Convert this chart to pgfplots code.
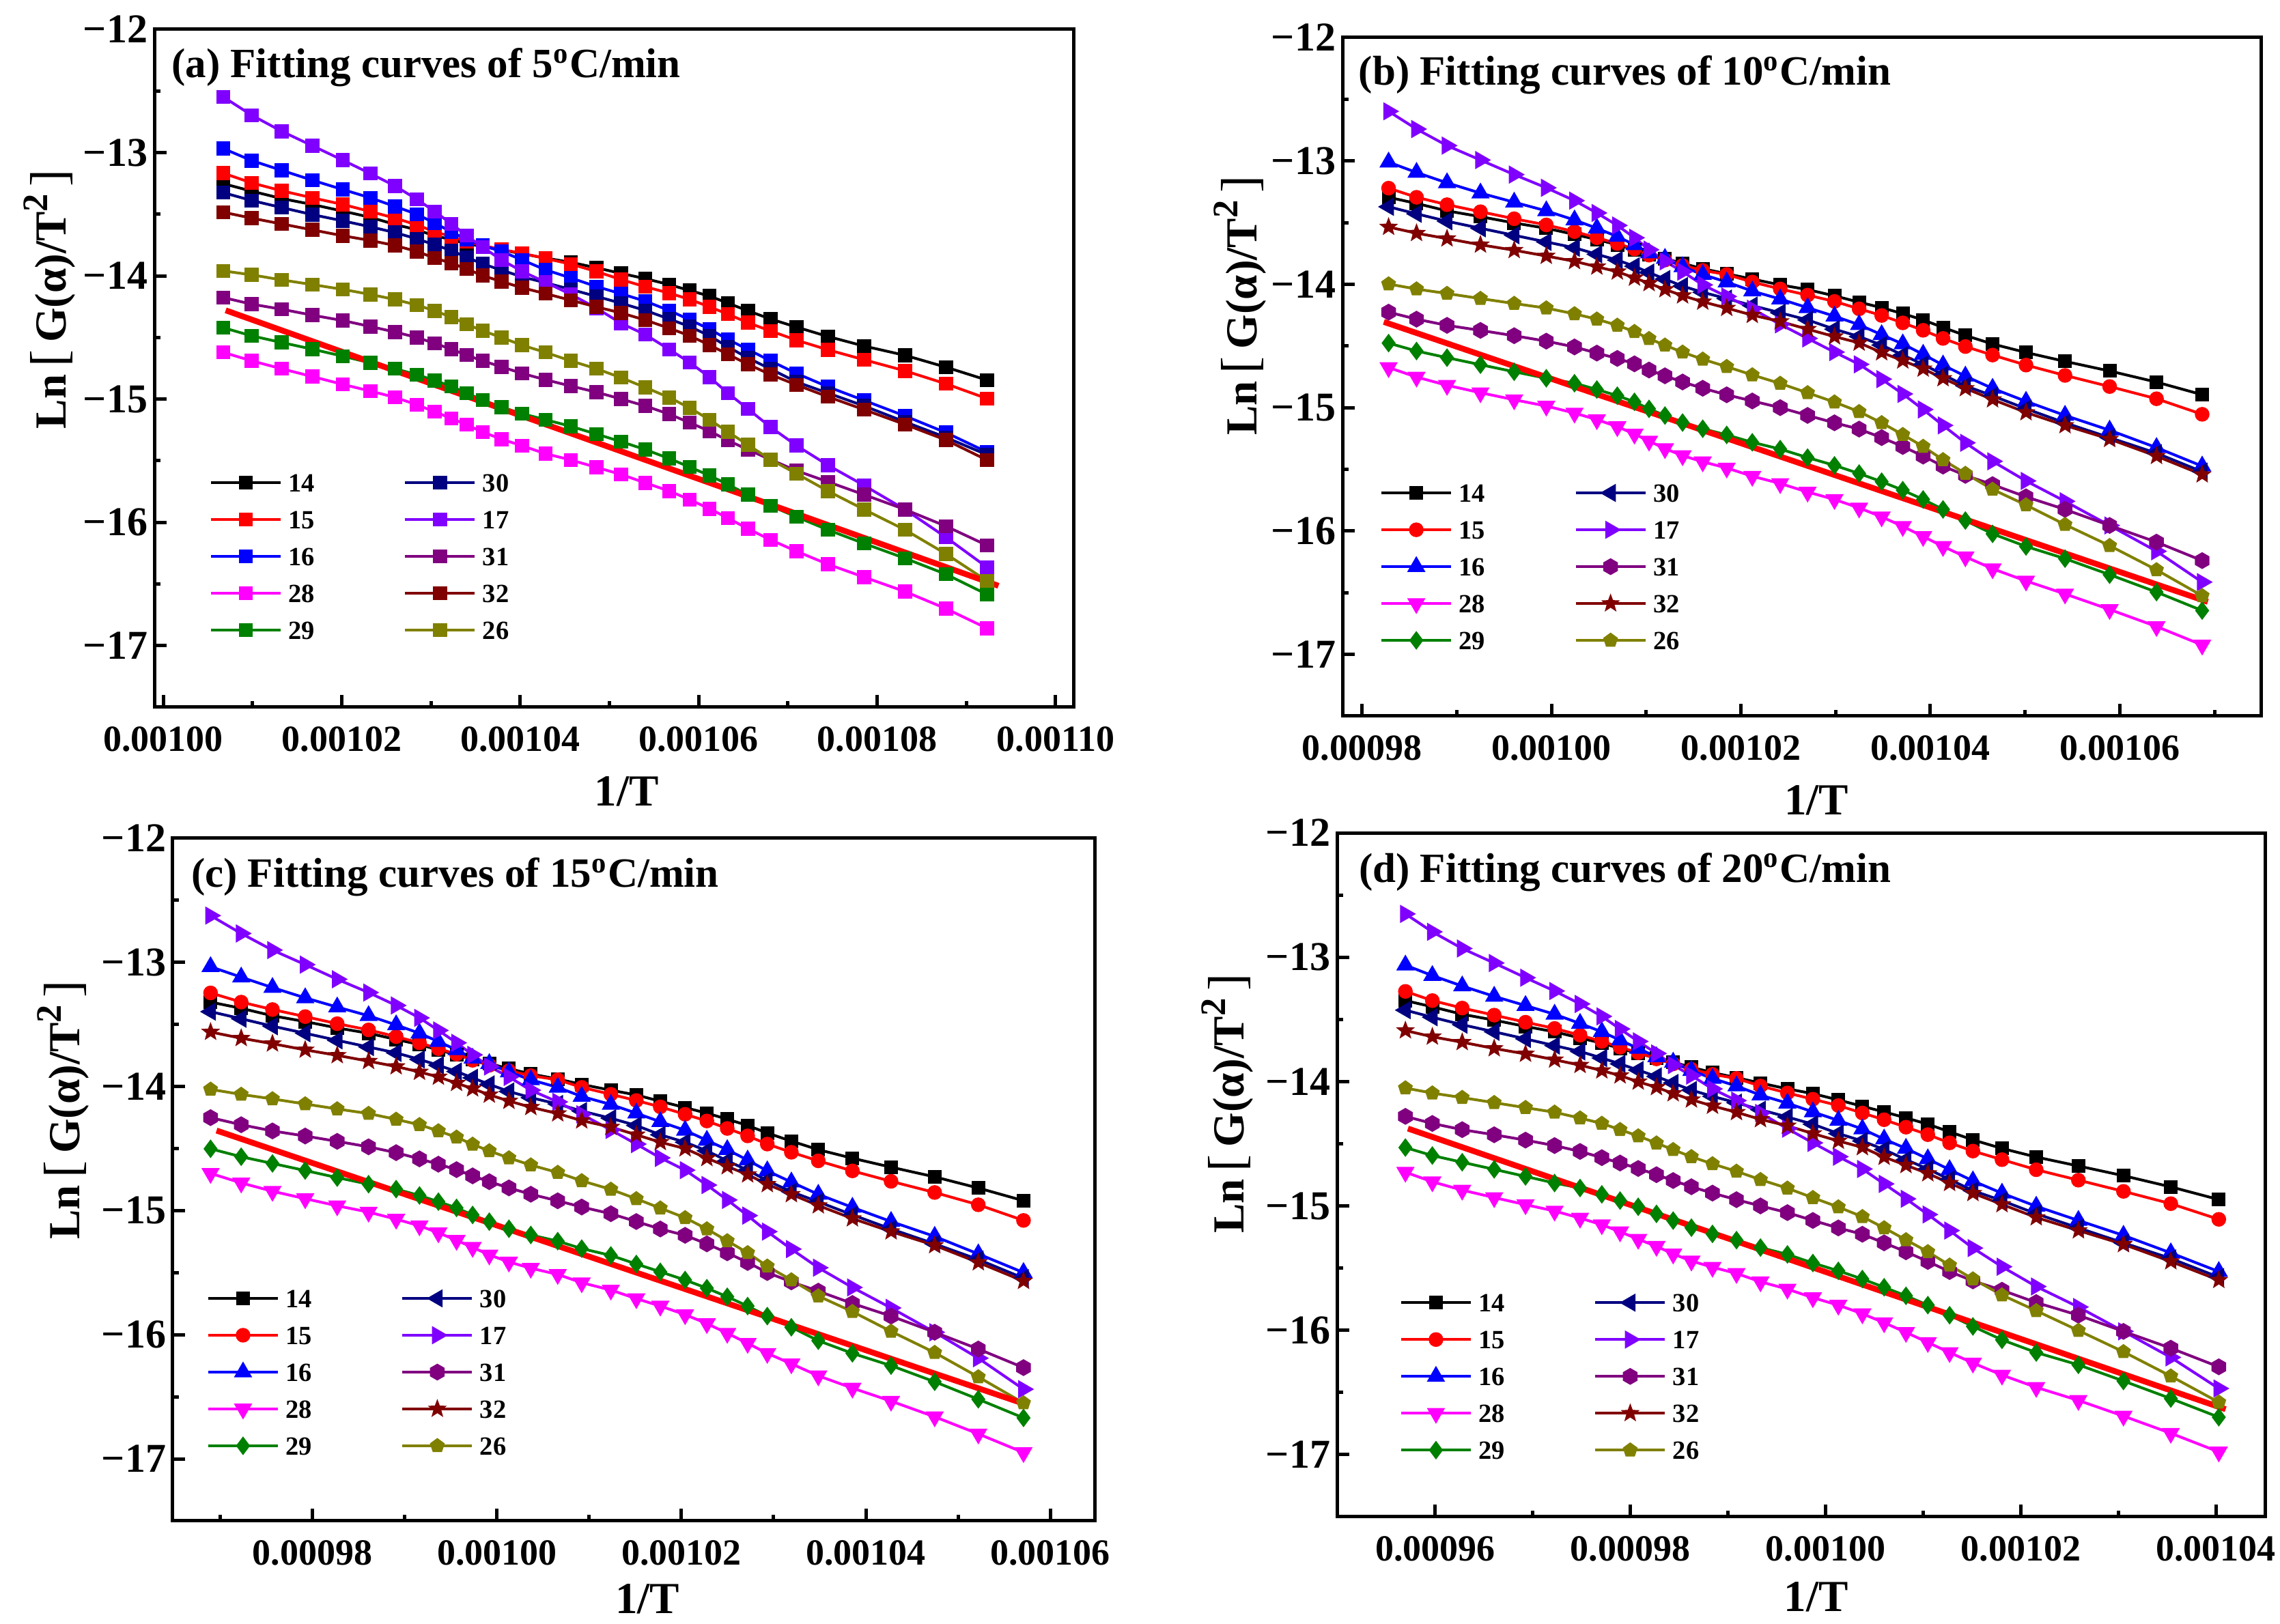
\documentclass[border=0pt]{standalone}
\usepackage{fontspec}
\setmainfont{Liberation Serif}
\usepackage{pgfplots}
\pgfplotsset{compat=1.18}
\usepackage{pgfplotstable}
\usetikzlibrary{plotmarks}

\definecolor{c14}{RGB}{0,0,0}
\definecolor{c15}{RGB}{255,0,0}
\definecolor{c16}{RGB}{0,0,255}
\definecolor{c28}{RGB}{255,0,255}
\definecolor{c29}{RGB}{0,128,0}
\definecolor{c30}{RGB}{0,0,128}
\definecolor{c17}{RGB}{128,0,255}
\definecolor{c31}{RGB}{128,0,128}
\definecolor{c32}{RGB}{128,0,0}
\definecolor{c26}{RGB}{128,128,0}

\pgfdeclareplotmark{myhex}{%
  \pgfpathmoveto{\pgfpointpolar{90}{\pgfplotmarksize}}%
  \pgfpathlineto{\pgfpointpolar{150}{\pgfplotmarksize}}%
  \pgfpathlineto{\pgfpointpolar{210}{\pgfplotmarksize}}%
  \pgfpathlineto{\pgfpointpolar{270}{\pgfplotmarksize}}%
  \pgfpathlineto{\pgfpointpolar{330}{\pgfplotmarksize}}%
  \pgfpathlineto{\pgfpointpolar{30}{\pgfplotmarksize}}%
  \pgfpathclose
  \pgfusepathqfillstroke}
\pgfdeclareplotmark{mystar}{%
  \pgfpathmoveto{\pgfpointpolar{90}{\pgfplotmarksize}}%
  \pgfpathlineto{\pgfpointpolar{126}{0.42\pgfplotmarksize}}%
  \pgfpathlineto{\pgfpointpolar{162}{\pgfplotmarksize}}%
  \pgfpathlineto{\pgfpointpolar{198}{0.42\pgfplotmarksize}}%
  \pgfpathlineto{\pgfpointpolar{234}{\pgfplotmarksize}}%
  \pgfpathlineto{\pgfpointpolar{270}{0.42\pgfplotmarksize}}%
  \pgfpathlineto{\pgfpointpolar{306}{\pgfplotmarksize}}%
  \pgfpathlineto{\pgfpointpolar{342}{0.42\pgfplotmarksize}}%
  \pgfpathlineto{\pgfpointpolar{18}{\pgfplotmarksize}}%
  \pgfpathlineto{\pgfpointpolar{54}{0.42\pgfplotmarksize}}%
  \pgfpathclose
  \pgfusepathqfillstroke}

\pgfplotsset{
  base/.style={line width=0.8pt},
  as14/.style={base, color=c14, mark=square*, mark size=1.9pt, mark options={solid,line width=0.3pt}},
  as15/.style={base, color=c15, mark=square*, mark size=1.9pt, mark options={solid,line width=0.3pt}},
  as16/.style={base, color=c16, mark=square*, mark size=1.9pt, mark options={solid,line width=0.3pt}},
  as28/.style={base, color=c28, mark=square*, mark size=1.9pt, mark options={solid,line width=0.3pt}},
  as29/.style={base, color=c29, mark=square*, mark size=1.9pt, mark options={solid,line width=0.3pt}},
  as30/.style={base, color=c30, mark=square*, mark size=1.9pt, mark options={solid,line width=0.3pt}},
  as17/.style={base, color=c17, mark=square*, mark size=1.9pt, mark options={solid,line width=0.3pt}},
  as31/.style={base, color=c31, mark=square*, mark size=1.9pt, mark options={solid,line width=0.3pt}},
  as32/.style={base, color=c32, mark=square*, mark size=1.9pt, mark options={solid,line width=0.3pt}},
  as26/.style={base, color=c26, mark=square*, mark size=1.9pt, mark options={solid,line width=0.3pt}},
  bs14/.style={base, color=c14, mark=square*, mark size=1.85pt, mark options={solid,line width=0.3pt}},
  bs15/.style={base, color=c15, mark=*, mark size=2.0pt, mark options={solid,line width=0.3pt}},
  bs16/.style={base, color=c16, mark=triangle*, mark size=2.8pt, mark options={solid,line width=0.3pt}},
  bs28/.style={base, color=c28, mark=triangle*, mark size=2.8pt, mark options={solid,line width=0.3pt,rotate=180}},
  bs29/.style={base, color=c29, mark=diamond*, mark size=2.5pt, mark options={solid,line width=0.3pt}},
  bs30/.style={base, color=c30, mark=triangle*, mark size=2.8pt, mark options={solid,line width=0.3pt,rotate=90}},
  bs17/.style={base, color=c17, mark=triangle*, mark size=2.8pt, mark options={solid,line width=0.3pt,rotate=-90}},
  bs31/.style={base, color=c31, mark=myhex, mark size=2.3pt, mark options={solid,line width=0.3pt}},
  bs32/.style={base, color=c32, mark=mystar, mark size=2.5pt, mark options={solid,line width=0.3pt}},
  bs26/.style={base, color=c26, mark=pentagon*, mark size=2.1pt, mark options={solid,line width=0.3pt}},
  legend image code/.code={%
    \path[draw=none,fill=none] (0pt,-5.4pt) rectangle (20.4pt,5.4pt);
    \draw[mark repeat=2,mark phase=2] plot coordinates {(0pt,0pt) (10.2pt,0pt) (20.4pt,0pt)};},
  panel/.style={
    scale only axis, anchor=south west,
    ymin=-17.5, ymax=-12,
    ytick={-17,-16,-15,-14,-13,-12},
    yticklabels={−17,−16,−15,−14,−13,−12},
    minor ytick={-16.5,-15.5,-14.5,-13.5,-12.5},
    tick align=inside, xtick pos=left, ytick pos=left,
    major tick length=3.6pt, minor tick length=1.8pt,
    tick style={black, line width=1pt},
    axis line style={line width=1pt, black},
    scaled x ticks=false, scaled y ticks=false,
    yticklabel style={font=\fontsize{12}{14}\selectfont\bfseries, inner sep=0pt, anchor=east, xshift=-1.8pt},
    xticklabel style={font=\fontsize{10.8}{12}\selectfont\bfseries, inner sep=0pt, anchor=north, yshift=-5.6pt},
    label style={font=\fontsize{13}{15}\selectfont\bfseries},
    xlabel={1/T},
    ylabel={Ln\,{\mdseries\fontsize{15}{15}\selectfont[}\,G(α)/T\raisebox{0.42em}{\fontsize{10.5}{11}\selectfont 2}\,{\mdseries\fontsize{15}{15}\selectfont]}},
    legend columns=2,
    legend cell align=left,
    legend style={draw=none, fill=none, inner sep=0pt, outer sep=0pt, row sep=0pt, anchor=north west,
      font=\fontsize{7.7}{9}\selectfont\bfseries,
      cells={anchor=west},
      nodes={anchor=west, inner sep=0pt, text height=5.4pt, text depth=0pt},
      /tikz/every odd column/.append style={column sep=1.9pt},
      /tikz/every even column/.append style={column sep=26.1pt}},
  },
}

\newcommand{\legendall}[1]{%
  \addlegendimage{#1s14}\addlegendentry{14}
  \addlegendimage{#1s30}\addlegendentry{30}
  \addlegendimage{#1s15}\addlegendentry{15}
  \addlegendimage{#1s17}\addlegendentry{17}
  \addlegendimage{#1s16}\addlegendentry{16}
  \addlegendimage{#1s31}\addlegendentry{31}
  \addlegendimage{#1s28}\addlegendentry{28}
  \addlegendimage{#1s32}\addlegendentry{32}
  \addlegendimage{#1s29}\addlegendentry{29}
  \addlegendimage{#1s26}\addlegendentry{26}}
\newcommand{\plotall}[2]{%
  \addplot[#2s14, forget plot] table[x=x,y=s14]{#1};
  \addplot[#2s15, forget plot] table[x=x,y=s15]{#1};
  \addplot[#2s16, forget plot] table[x=x,y=s16]{#1};
  \addplot[#2s28, forget plot] table[x=x,y=s28]{#1};
  \addplot[#2s29, forget plot] table[x=x,y=s29]{#1};
  \addplot[#2s30, forget plot] table[x=x,y=s30]{#1};
  \addplot[#2s17, forget plot] table[x=x,y=s17]{#1};
  \addplot[#2s31, forget plot] table[x=x,y=s31]{#1};
  \addplot[#2s32, forget plot] table[x=x,y=s32]{#1};
  \addplot[#2s26, forget plot] table[x=x,y=s26]{#1};}

\pgfplotstableread{
x s14 s15 s16 s28 s29 s30 s17 s31 s32 s26
1006.72 -13.252 -13.167 -12.967 -14.621 -14.421 -13.325 -12.548 -14.176 -13.484 -13.960
1009.92 -13.313 -13.246 -13.065 -14.690 -14.487 -13.389 -12.697 -14.230 -13.532 -13.992
1013.27 -13.373 -13.310 -13.144 -14.754 -14.541 -13.446 -12.827 -14.271 -13.579 -14.033
1016.70 -13.421 -13.367 -13.224 -14.817 -14.595 -13.503 -12.944 -14.319 -13.627 -14.071
1020.13 -13.475 -13.421 -13.300 -14.881 -14.652 -13.554 -13.062 -14.363 -13.675 -14.110
1023.21 -13.525 -13.478 -13.367 -14.935 -14.706 -13.602 -13.170 -14.411 -13.713 -14.151
1025.98 -13.583 -13.532 -13.437 -14.986 -14.754 -13.649 -13.271 -14.456 -13.754 -14.192
1028.42 -13.627 -13.586 -13.500 -15.046 -14.802 -13.700 -13.379 -14.500 -13.802 -14.237
1030.43 -13.675 -13.643 -13.573 -15.103 -14.849 -13.748 -13.478 -14.548 -13.856 -14.284
1032.29 -13.706 -13.681 -13.643 -15.157 -14.897 -13.795 -13.578 -14.595 -13.897 -14.335
1033.99 -13.738 -13.722 -13.706 -15.208 -14.951 -13.849 -13.673 -14.643 -13.944 -14.392
1035.80 -13.763 -13.754 -13.754 -15.268 -15.008 -13.903 -13.768 -14.690 -13.998 -14.446
1037.90 -13.789 -13.786 -13.802 -15.325 -15.065 -13.954 -13.871 -14.738 -14.046 -14.500
1040.22 -13.821 -13.817 -13.871 -15.379 -15.119 -14.008 -13.963 -14.792 -14.097 -14.563
1042.83 -13.856 -13.859 -13.951 -15.443 -15.167 -14.056 -14.052 -14.843 -14.144 -14.621
1045.67 -13.890 -13.905 -14.017 -15.494 -15.221 -14.110 -14.150 -14.894 -14.198 -14.690
1048.55 -13.935 -13.965 -14.087 -15.554 -15.284 -14.167 -14.262 -14.944 -14.252 -14.754
1051.30 -13.980 -14.030 -14.145 -15.611 -15.345 -14.222 -14.385 -14.999 -14.301 -14.826
1054.03 -14.023 -14.089 -14.206 -15.680 -15.410 -14.281 -14.477 -15.056 -14.359 -14.906
1056.70 -14.071 -14.140 -14.281 -15.746 -15.482 -14.350 -14.597 -15.122 -14.425 -14.987
1058.98 -14.119 -14.191 -14.356 -15.815 -15.551 -14.411 -14.702 -15.191 -14.486 -15.071
1061.21 -14.164 -14.251 -14.432 -15.890 -15.620 -14.486 -14.822 -15.260 -14.561 -15.167
1063.27 -14.221 -14.311 -14.516 -15.965 -15.692 -14.576 -14.951 -15.335 -14.636 -15.266
1065.52 -14.284 -14.380 -14.597 -16.052 -15.776 -14.666 -15.080 -15.410 -14.717 -15.371
1068.05 -14.350 -14.447 -14.690 -16.142 -15.866 -14.756 -15.227 -15.491 -14.801 -15.491
1070.97 -14.416 -14.522 -14.792 -16.235 -15.956 -14.861 -15.377 -15.581 -14.885 -15.605
1074.48 -14.492 -14.600 -14.900 -16.340 -16.061 -14.951 -15.536 -15.671 -14.981 -15.746
1078.55 -14.570 -14.681 -15.011 -16.445 -16.172 -15.056 -15.701 -15.776 -15.086 -15.896
1083.13 -14.645 -14.771 -15.137 -16.562 -16.292 -15.185 -15.896 -15.896 -15.206 -16.061
1087.71 -14.741 -14.876 -15.272 -16.700 -16.421 -15.311 -16.121 -16.031 -15.332 -16.256
1092.32 -14.846 -14.996 -15.430 -16.860 -16.585 -15.452 -16.365 -16.187 -15.495 -16.475
}\tA

\pgfplotstableread{
x s14 s15 s16 s28 s29 s30 s17 s31 s32 s26
982.80 -13.295 -13.221 -13.010 -14.675 -14.477 -13.372 -12.598 -14.226 -13.536 -13.998
985.75 -13.345 -13.295 -13.094 -14.752 -14.541 -13.429 -12.742 -14.283 -13.586 -14.039
988.97 -13.405 -13.355 -13.178 -14.819 -14.595 -13.489 -12.876 -14.333 -13.630 -14.075
992.50 -13.452 -13.412 -13.261 -14.879 -14.652 -13.546 -12.993 -14.374 -13.680 -14.116
996.06 -13.503 -13.469 -13.335 -14.936 -14.709 -13.603 -13.111 -14.417 -13.724 -14.156
999.45 -13.546 -13.519 -13.405 -14.987 -14.762 -13.657 -13.218 -14.461 -13.771 -14.193
1002.43 -13.596 -13.573 -13.479 -15.044 -14.802 -13.704 -13.322 -14.508 -13.814 -14.240
1004.79 -13.637 -13.623 -13.546 -15.097 -14.853 -13.757 -13.422 -14.558 -13.858 -14.283
1006.95 -13.680 -13.670 -13.613 -15.154 -14.903 -13.804 -13.523 -14.601 -13.898 -14.333
1008.76 -13.720 -13.714 -13.680 -15.214 -14.953 -13.854 -13.623 -14.645 -13.948 -14.384
1010.30 -13.757 -13.764 -13.747 -15.271 -15.010 -13.905 -13.720 -14.695 -13.992 -14.441
1011.98 -13.791 -13.804 -13.791 -15.332 -15.064 -13.958 -13.814 -14.742 -14.042 -14.494
1013.84 -13.831 -13.848 -13.858 -15.389 -15.121 -14.015 -13.898 -14.792 -14.092 -14.551
1015.97 -13.874 -13.888 -13.921 -15.439 -15.171 -14.065 -14.005 -14.843 -14.142 -14.608
1018.50 -13.915 -13.921 -13.982 -15.489 -15.221 -14.116 -14.099 -14.896 -14.193 -14.668
1021.20 -13.958 -13.982 -14.055 -15.556 -15.281 -14.173 -14.199 -14.946 -14.250 -14.735
1024.15 -14.005 -14.038 -14.120 -15.615 -15.336 -14.231 -14.325 -15.000 -14.302 -14.804
1027.04 -14.043 -14.088 -14.190 -15.684 -15.405 -14.289 -14.439 -15.063 -14.364 -14.880
1029.88 -14.094 -14.139 -14.259 -15.744 -15.468 -14.364 -14.550 -15.123 -14.424 -14.955
1032.48 -14.145 -14.199 -14.328 -15.813 -15.534 -14.424 -14.649 -15.174 -14.475 -15.033
1034.86 -14.190 -14.253 -14.409 -15.885 -15.600 -14.493 -14.769 -15.243 -14.553 -15.123
1037.09 -14.238 -14.313 -14.484 -15.963 -15.669 -14.574 -14.889 -15.315 -14.619 -15.219
1039.24 -14.289 -14.373 -14.568 -16.044 -15.744 -14.649 -15.015 -15.393 -14.685 -15.315
1041.34 -14.350 -14.439 -14.655 -16.125 -15.825 -14.733 -15.144 -15.474 -14.763 -15.423
1043.70 -14.415 -14.505 -14.745 -16.209 -15.915 -14.823 -15.285 -15.549 -14.844 -15.534
1046.57 -14.484 -14.574 -14.844 -16.306 -16.023 -14.904 -15.435 -15.624 -14.934 -15.663
1050.10 -14.553 -14.655 -14.949 -16.405 -16.125 -15.009 -15.594 -15.723 -15.039 -15.789
1054.22 -14.625 -14.739 -15.063 -16.510 -16.224 -15.123 -15.759 -15.825 -15.144 -15.948
1058.93 -14.703 -14.829 -15.183 -16.636 -16.354 -15.243 -15.955 -15.955 -15.255 -16.119
1063.88 -14.793 -14.928 -15.324 -16.774 -16.495 -15.369 -16.164 -16.090 -15.393 -16.315
1068.70 -14.895 -15.054 -15.474 -16.924 -16.645 -15.519 -16.414 -16.240 -15.543 -16.525
}\tB

\pgfplotstableread{
x s14 s15 s16 s28 s29 s30 s17 s31 s32 s26
968.95 -13.320 -13.246 -13.035 -14.700 -14.502 -13.397 -12.623 -14.251 -13.561 -14.023
972.27 -13.370 -13.320 -13.119 -14.777 -14.566 -13.454 -12.767 -14.308 -13.611 -14.064
975.66 -13.430 -13.380 -13.203 -14.844 -14.620 -13.514 -12.901 -14.358 -13.655 -14.100
979.21 -13.477 -13.437 -13.286 -14.904 -14.677 -13.571 -13.018 -14.399 -13.705 -14.141
982.68 -13.528 -13.494 -13.360 -14.961 -14.734 -13.628 -13.136 -14.442 -13.749 -14.181
986.08 -13.571 -13.544 -13.430 -15.012 -14.787 -13.682 -13.243 -14.486 -13.796 -14.218
989.07 -13.621 -13.598 -13.504 -15.069 -14.827 -13.729 -13.347 -14.533 -13.839 -14.265
991.60 -13.662 -13.648 -13.571 -15.122 -14.878 -13.782 -13.447 -14.583 -13.883 -14.308
993.65 -13.705 -13.695 -13.638 -15.179 -14.928 -13.829 -13.548 -14.626 -13.923 -14.358
995.62 -13.745 -13.739 -13.705 -15.239 -14.978 -13.879 -13.648 -14.670 -13.973 -14.409
997.36 -13.782 -13.789 -13.772 -15.296 -15.035 -13.930 -13.745 -14.720 -14.017 -14.466
999.17 -13.816 -13.829 -13.816 -15.357 -15.089 -13.983 -13.839 -14.767 -14.067 -14.519
1001.30 -13.856 -13.873 -13.883 -15.414 -15.146 -14.040 -13.923 -14.817 -14.117 -14.576
1003.67 -13.899 -13.913 -13.946 -15.464 -15.196 -14.090 -14.030 -14.868 -14.167 -14.633
1006.59 -13.940 -13.946 -14.007 -15.514 -15.246 -14.141 -14.124 -14.921 -14.218 -14.693
1009.19 -13.983 -14.007 -14.080 -15.581 -15.306 -14.198 -14.224 -14.971 -14.275 -14.760
1012.35 -14.030 -14.063 -14.145 -15.640 -15.361 -14.256 -14.350 -15.025 -14.327 -14.829
1015.11 -14.068 -14.113 -14.215 -15.709 -15.430 -14.314 -14.464 -15.088 -14.389 -14.905
1017.71 -14.119 -14.164 -14.284 -15.769 -15.493 -14.389 -14.575 -15.148 -14.449 -14.980
1020.40 -14.170 -14.224 -14.353 -15.838 -15.559 -14.449 -14.674 -15.199 -14.500 -15.058
1022.76 -14.215 -14.278 -14.434 -15.910 -15.625 -14.518 -14.794 -15.268 -14.578 -15.148
1024.97 -14.263 -14.338 -14.509 -15.988 -15.694 -14.599 -14.914 -15.340 -14.644 -15.244
1027.18 -14.314 -14.398 -14.593 -16.069 -15.769 -14.674 -15.040 -15.418 -14.710 -15.340
1029.31 -14.375 -14.464 -14.680 -16.150 -15.850 -14.758 -15.169 -15.499 -14.788 -15.448
1031.92 -14.440 -14.530 -14.770 -16.234 -15.940 -14.848 -15.310 -15.574 -14.869 -15.559
1034.84 -14.509 -14.599 -14.869 -16.331 -16.048 -14.929 -15.460 -15.649 -14.959 -15.688
1038.54 -14.578 -14.680 -14.974 -16.430 -16.150 -15.034 -15.619 -15.748 -15.064 -15.814
1042.73 -14.650 -14.764 -15.088 -16.535 -16.249 -15.148 -15.784 -15.850 -15.169 -15.973
1047.46 -14.728 -14.854 -15.208 -16.661 -16.379 -15.268 -15.980 -15.980 -15.280 -16.144
1052.19 -14.818 -14.953 -15.349 -16.799 -16.520 -15.394 -16.189 -16.115 -15.418 -16.340
1057.09 -14.920 -15.079 -15.499 -16.949 -16.670 -15.544 -16.439 -16.265 -15.568 -16.550
}\tC

\pgfplotstableread{
x s14 s15 s16 s28 s29 s30 s17 s31 s32 s26
956.94 -13.349 -13.275 -13.064 -14.729 -14.531 -13.426 -12.652 -14.280 -13.590 -14.052
959.70 -13.399 -13.349 -13.148 -14.806 -14.595 -13.483 -12.796 -14.337 -13.640 -14.093
962.76 -13.459 -13.409 -13.232 -14.873 -14.649 -13.543 -12.930 -14.387 -13.684 -14.129
966.04 -13.506 -13.466 -13.315 -14.933 -14.706 -13.600 -13.047 -14.428 -13.734 -14.170
969.25 -13.557 -13.523 -13.389 -14.990 -14.763 -13.657 -13.165 -14.471 -13.778 -14.210
972.23 -13.600 -13.573 -13.459 -15.041 -14.816 -13.711 -13.272 -14.515 -13.825 -14.247
974.84 -13.650 -13.627 -13.533 -15.098 -14.856 -13.758 -13.376 -14.562 -13.868 -14.294
977.07 -13.691 -13.677 -13.600 -15.151 -14.907 -13.811 -13.476 -14.612 -13.912 -14.337
978.94 -13.734 -13.724 -13.667 -15.208 -14.957 -13.858 -13.577 -14.655 -13.952 -14.387
980.80 -13.774 -13.768 -13.734 -15.268 -15.007 -13.908 -13.677 -14.699 -14.002 -14.438
982.67 -13.811 -13.818 -13.801 -15.325 -15.064 -13.959 -13.774 -14.749 -14.046 -14.495
984.38 -13.845 -13.858 -13.845 -15.386 -15.118 -14.012 -13.868 -14.796 -14.096 -14.548
986.25 -13.885 -13.902 -13.912 -15.443 -15.175 -14.069 -13.952 -14.846 -14.146 -14.605
988.41 -13.928 -13.942 -13.975 -15.493 -15.225 -14.119 -14.059 -14.897 -14.196 -14.662
990.87 -13.969 -13.975 -14.036 -15.543 -15.275 -14.170 -14.153 -14.950 -14.247 -14.722
993.33 -14.012 -14.036 -14.109 -15.610 -15.335 -14.227 -14.253 -15.000 -14.304 -14.789
996.09 -14.059 -14.092 -14.174 -15.669 -15.390 -14.285 -14.379 -15.054 -14.356 -14.858
998.70 -14.097 -14.142 -14.244 -15.738 -15.459 -14.343 -14.493 -15.117 -14.418 -14.934
1001.31 -14.148 -14.193 -14.313 -15.798 -15.522 -14.418 -14.604 -15.177 -14.478 -15.009
1003.77 -14.199 -14.253 -14.382 -15.867 -15.588 -14.478 -14.703 -15.228 -14.529 -15.087
1006.00 -14.244 -14.307 -14.463 -15.939 -15.654 -14.547 -14.823 -15.297 -14.607 -15.177
1008.24 -14.292 -14.367 -14.538 -16.017 -15.723 -14.628 -14.943 -15.369 -14.673 -15.273
1010.48 -14.343 -14.427 -14.622 -16.098 -15.798 -14.703 -15.069 -15.447 -14.739 -15.369
1012.71 -14.404 -14.493 -14.709 -16.179 -15.879 -14.787 -15.198 -15.528 -14.817 -15.477
1015.10 -14.469 -14.559 -14.799 -16.263 -15.969 -14.877 -15.339 -15.603 -14.898 -15.588
1018.08 -14.538 -14.628 -14.898 -16.360 -16.077 -14.958 -15.489 -15.678 -14.988 -15.717
1021.59 -14.607 -14.709 -15.003 -16.459 -16.179 -15.063 -15.648 -15.777 -15.093 -15.843
1025.91 -14.679 -14.793 -15.117 -16.564 -16.278 -15.177 -15.813 -15.879 -15.198 -16.002
1030.53 -14.757 -14.883 -15.237 -16.690 -16.408 -15.297 -16.009 -16.009 -15.309 -16.173
1035.38 -14.847 -14.982 -15.378 -16.828 -16.549 -15.423 -16.218 -16.144 -15.447 -16.369
1040.30 -14.949 -15.108 -15.528 -16.978 -16.699 -15.573 -16.468 -16.294 -15.597 -16.579
}\tD

\newcommand{\ttl}[1]{\node[anchor=base west, inner sep=0pt, font=\fontsize{12.2}{14}\selectfont\bfseries] at #1}

\begin{document}
\begin{tikzpicture}
\path[use as bounding box] (0pt,0pt) rectangle (667.8pt,475.8pt);

% (a)
\begin{axis}[panel, at={(45.2pt,268.6pt)}, width=269.2pt, height=198.6pt,
  xmin=999.0, xmax=1102.0,
  xtick={1000,1020,1040,1060,1080,1100},
  xticklabels={0.00100,0.00102,0.00104,0.00106,0.00108,0.00110},
  minor xtick={1010,1030,1050,1070,1090},
  legend style={at={(0.060,0.3585)}},
  xlabel style={at={(axis description cs:0.514,-0.124)},anchor=center},
  ylabel style={at={(axis description cs:-0.114,0.602)},anchor=center}]
\legendall{a}
\plotall{\tA}{a}
\addplot[color=red, line width=1.7pt, mark=none, forget plot] coordinates {(1007.0,-14.28) (1093.6,-16.515)};
\ttl{(axis description cs:0.018,0.9285)} {(a) Fitting curves of 5\textsuperscript{o}C/min};
\end{axis}

% (b)
\begin{axis}[panel, at={(393.2pt,266.0pt)}, width=269.0pt, height=198.8pt,
  xmin=977.93, xmax=1074.9,
  xtick={980,1000,1020,1040,1060},
  xticklabels={0.00098,0.00100,0.00102,0.00104,0.00106},
  minor xtick={990,1010,1030,1050,1070},
  legend style={at={(0.041,0.356)}},
  xlabel style={at={(axis description cs:0.516,-0.124)},anchor=center},
  ylabel style={at={(axis description cs:-0.1115,0.605)},anchor=center}]
\legendall{b}
\plotall{\tB}{b}
\addplot[color=red, line width=1.7pt, mark=none, forget plot] coordinates {(982.3,-14.305) (1069.3,-16.574)};
\ttl{(axis description cs:0.017,0.9296)} {(b) Fitting curves of 10\textsuperscript{o}C/min};
\end{axis}

% (c)
\begin{axis}[panel, at={(50.6pt,30.2pt)}, width=270.0pt, height=200.0pt,
  xmin=964.85, xmax=1064.8,
  xtick={980,1000,1020,1040,1060},
  xticklabels={0.00098,0.00100,0.00102,0.00104,0.00106},
  minor xtick={970,990,1010,1030,1050},
  legend style={at={(0.037,0.353)}},
  xlabel style={at={(axis description cs:0.515,-0.114)},anchor=center},
  ylabel style={at={(axis description cs:-0.119,0.602)},anchor=center}]
\legendall{b}
\plotall{\tC}{b}
\addplot[color=red, line width=1.7pt, mark=none, forget plot] coordinates {(969.6,-14.355) (1057.7,-16.57)};
\ttl{(axis description cs:0.0193,0.928)} {(c) Fitting curves of 15\textsuperscript{o}C/min};
\end{axis}

% (d)
\begin{axis}[panel, at={(391.6pt,31.4pt)}, width=272.0pt, height=200.4pt,
  xmin=949.93, xmax=1045.1,
  xtick={960,980,1000,1020,1040},
  xticklabels={0.00096,0.00098,0.00100,0.00102,0.00104},
  minor xtick={970,990,1010,1030},
  legend style={at={(0.0676,0.340)}},
  xlabel style={at={(axis description cs:0.516,-0.117)},anchor=center},
  ylabel style={at={(axis description cs:-0.118,0.604)},anchor=center}]
\legendall{b}
\plotall{\tD}{b}
\addplot[color=red, line width=1.7pt, mark=none, forget plot] coordinates {(957.2,-14.378) (1041.0,-16.635)};
\ttl{(axis description cs:0.0228,0.928)} {(d) Fitting curves of 20\textsuperscript{o}C/min};
\end{axis}
\end{tikzpicture}
\end{document}
